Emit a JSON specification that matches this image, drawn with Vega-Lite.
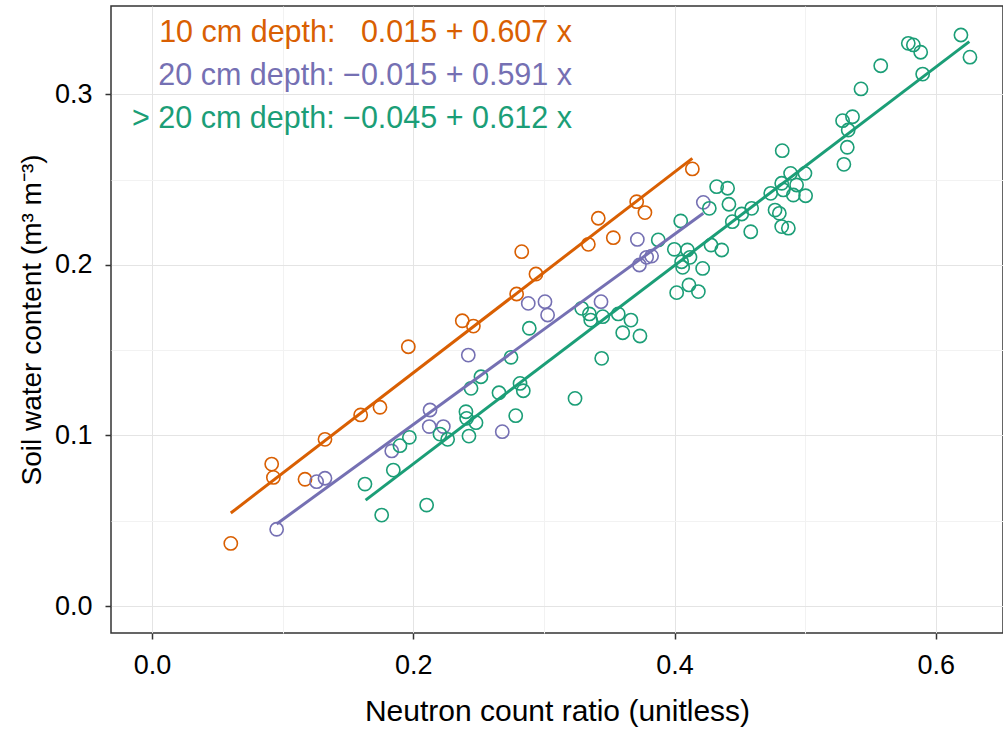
{
  "$schema": "https://vega.github.io/schema/vega-lite/v6.json",
  "width": 892,
  "height": 627,
  "autosize": "none",
  "padding": {"left": 111, "top": 6, "right": 0, "bottom": 97},
  "background": "white",
  "config": {
    "view": {"stroke": "#333333", "strokeWidth": 1.5},
    "font": "Liberation Sans",
    "axis": {
      "labelFont": "Liberation Sans",
      "titleFont": "Liberation Sans",
      "labelColor": "#000000",
      "titleColor": "#000000",
      "titleFontWeight": "normal",
      "domain": false,
      "tickColor": "#333333",
      "tickWidth": 1.5,
      "tickSize": 6,
      "gridWidth": 1
    }
  },
  "datasets": {
    "points": [
      {"g": "10 cm", "x": 0.0603, "y": 0.0367},
      {"g": "10 cm", "x": 0.0916, "y": 0.0832},
      {"g": "10 cm", "x": 0.0929, "y": 0.0754},
      {"g": "10 cm", "x": 0.1171, "y": 0.0743},
      {"g": "10 cm", "x": 0.1324, "y": 0.0977},
      {"g": "10 cm", "x": 0.1597, "y": 0.1120},
      {"g": "10 cm", "x": 0.1745, "y": 0.1165},
      {"g": "10 cm", "x": 0.1962, "y": 0.1520},
      {"g": "10 cm", "x": 0.2375, "y": 0.1672},
      {"g": "10 cm", "x": 0.2460, "y": 0.1641},
      {"g": "10 cm", "x": 0.2791, "y": 0.1829},
      {"g": "10 cm", "x": 0.2830, "y": 0.2077},
      {"g": "10 cm", "x": 0.2939, "y": 0.1946},
      {"g": "10 cm", "x": 0.3340, "y": 0.2120},
      {"g": "10 cm", "x": 0.3416, "y": 0.2273},
      {"g": "10 cm", "x": 0.3531, "y": 0.2159},
      {"g": "10 cm", "x": 0.3710, "y": 0.2370},
      {"g": "10 cm", "x": 0.3773, "y": 0.2306},
      {"g": "10 cm", "x": 0.4136, "y": 0.2562},
      {"g": "20 cm", "x": 0.0954, "y": 0.0450},
      {"g": "20 cm", "x": 0.1260, "y": 0.0729},
      {"g": "20 cm", "x": 0.1324, "y": 0.0749},
      {"g": "20 cm", "x": 0.1835, "y": 0.0909},
      {"g": "20 cm", "x": 0.2122, "y": 0.1052},
      {"g": "20 cm", "x": 0.2128, "y": 0.1149},
      {"g": "20 cm", "x": 0.2230, "y": 0.1052},
      {"g": "20 cm", "x": 0.2421, "y": 0.1471},
      {"g": "20 cm", "x": 0.2681, "y": 0.1022},
      {"g": "20 cm", "x": 0.2880, "y": 0.1774},
      {"g": "20 cm", "x": 0.3008, "y": 0.1784},
      {"g": "20 cm", "x": 0.3028, "y": 0.1706},
      {"g": "20 cm", "x": 0.3437, "y": 0.1784},
      {"g": "20 cm", "x": 0.3715, "y": 0.2149},
      {"g": "20 cm", "x": 0.3731, "y": 0.1999},
      {"g": "20 cm", "x": 0.3786, "y": 0.2044},
      {"g": "20 cm", "x": 0.3824, "y": 0.2051},
      {"g": "20 cm", "x": 0.4220, "y": 0.2366},
      {"g": "> 20 cm", "x": 0.1630, "y": 0.0715},
      {"g": "> 20 cm", "x": 0.1758, "y": 0.0533},
      {"g": "> 20 cm", "x": 0.1847, "y": 0.0797},
      {"g": "> 20 cm", "x": 0.1898, "y": 0.0940},
      {"g": "> 20 cm", "x": 0.1970, "y": 0.0989},
      {"g": "> 20 cm", "x": 0.2102, "y": 0.0592},
      {"g": "> 20 cm", "x": 0.2204, "y": 0.1008},
      {"g": "> 20 cm", "x": 0.2263, "y": 0.0977},
      {"g": "> 20 cm", "x": 0.2403, "y": 0.1139},
      {"g": "> 20 cm", "x": 0.2408, "y": 0.1100},
      {"g": "> 20 cm", "x": 0.2480, "y": 0.1075},
      {"g": "> 20 cm", "x": 0.2426, "y": 0.0996},
      {"g": "> 20 cm", "x": 0.2442, "y": 0.1276},
      {"g": "> 20 cm", "x": 0.2518, "y": 0.1344},
      {"g": "> 20 cm", "x": 0.2656, "y": 0.1250},
      {"g": "> 20 cm", "x": 0.2748, "y": 0.1458},
      {"g": "> 20 cm", "x": 0.2784, "y": 0.1116},
      {"g": "> 20 cm", "x": 0.2817, "y": 0.1305},
      {"g": "> 20 cm", "x": 0.2842, "y": 0.1262},
      {"g": "> 20 cm", "x": 0.2888, "y": 0.1628},
      {"g": "> 20 cm", "x": 0.3238, "y": 0.1217},
      {"g": "> 20 cm", "x": 0.3289, "y": 0.1745},
      {"g": "> 20 cm", "x": 0.3348, "y": 0.1712},
      {"g": "> 20 cm", "x": 0.3358, "y": 0.1676},
      {"g": "> 20 cm", "x": 0.3450, "y": 0.1696},
      {"g": "> 20 cm", "x": 0.3442, "y": 0.1452},
      {"g": "> 20 cm", "x": 0.3569, "y": 0.1712},
      {"g": "> 20 cm", "x": 0.3603, "y": 0.1602},
      {"g": "> 20 cm", "x": 0.3666, "y": 0.1676},
      {"g": "> 20 cm", "x": 0.3735, "y": 0.1583},
      {"g": "> 20 cm", "x": 0.3875, "y": 0.2146},
      {"g": "> 20 cm", "x": 0.3998, "y": 0.2091},
      {"g": "> 20 cm", "x": 0.4047, "y": 0.2257},
      {"g": "> 20 cm", "x": 0.4054, "y": 0.2018},
      {"g": "> 20 cm", "x": 0.4062, "y": 0.1985},
      {"g": "> 20 cm", "x": 0.4098, "y": 0.2087},
      {"g": "> 20 cm", "x": 0.4118, "y": 0.2044},
      {"g": "> 20 cm", "x": 0.4215, "y": 0.1979},
      {"g": "> 20 cm", "x": 0.4016, "y": 0.1837},
      {"g": "> 20 cm", "x": 0.4110, "y": 0.1882},
      {"g": "> 20 cm", "x": 0.4182, "y": 0.1843},
      {"g": "> 20 cm", "x": 0.4266, "y": 0.2331},
      {"g": "> 20 cm", "x": 0.4279, "y": 0.2116},
      {"g": "> 20 cm", "x": 0.4322, "y": 0.2458},
      {"g": "> 20 cm", "x": 0.4406, "y": 0.2449},
      {"g": "> 20 cm", "x": 0.4361, "y": 0.2087},
      {"g": "> 20 cm", "x": 0.4416, "y": 0.2355},
      {"g": "> 20 cm", "x": 0.4442, "y": 0.2253},
      {"g": "> 20 cm", "x": 0.4514, "y": 0.2298},
      {"g": "> 20 cm", "x": 0.4590, "y": 0.2331},
      {"g": "> 20 cm", "x": 0.4583, "y": 0.2194},
      {"g": "> 20 cm", "x": 0.4736, "y": 0.2419},
      {"g": "> 20 cm", "x": 0.4769, "y": 0.2321},
      {"g": "> 20 cm", "x": 0.4802, "y": 0.2302},
      {"g": "> 20 cm", "x": 0.4820, "y": 0.2224},
      {"g": "> 20 cm", "x": 0.4871, "y": 0.2215},
      {"g": "> 20 cm", "x": 0.4820, "y": 0.2478},
      {"g": "> 20 cm", "x": 0.4832, "y": 0.2439},
      {"g": "> 20 cm", "x": 0.4888, "y": 0.2536},
      {"g": "> 20 cm", "x": 0.4934, "y": 0.2468},
      {"g": "> 20 cm", "x": 0.4909, "y": 0.2409},
      {"g": "> 20 cm", "x": 0.4998, "y": 0.2536},
      {"g": "> 20 cm", "x": 0.5003, "y": 0.2405},
      {"g": "> 20 cm", "x": 0.4824, "y": 0.2669},
      {"g": "> 20 cm", "x": 0.5286, "y": 0.2845},
      {"g": "> 20 cm", "x": 0.5362, "y": 0.2868},
      {"g": "> 20 cm", "x": 0.5329, "y": 0.2790},
      {"g": "> 20 cm", "x": 0.5322, "y": 0.2689},
      {"g": "> 20 cm", "x": 0.5296, "y": 0.2589},
      {"g": "> 20 cm", "x": 0.5427, "y": 0.3031},
      {"g": "> 20 cm", "x": 0.5578, "y": 0.3167},
      {"g": "> 20 cm", "x": 0.5789, "y": 0.3298},
      {"g": "> 20 cm", "x": 0.5828, "y": 0.3289},
      {"g": "> 20 cm", "x": 0.5884, "y": 0.3246},
      {"g": "> 20 cm", "x": 0.5899, "y": 0.3118},
      {"g": "> 20 cm", "x": 0.6192, "y": 0.3347},
      {"g": "> 20 cm", "x": 0.6261, "y": 0.3217}
    ],
    "fits": [
      {"g": "10 cm", "x": 0.0603, "y": 0.0545},
      {"g": "10 cm", "x": 0.4136, "y": 0.2624},
      {"g": "20 cm", "x": 0.0954, "y": 0.0481},
      {"g": "20 cm", "x": 0.4220, "y": 0.2302},
      {"g": "> 20 cm", "x": 0.1635, "y": 0.0621},
      {"g": "> 20 cm", "x": 0.6256, "y": 0.3308}
    ],
    "labels": [
      {"g": "10 cm", "x": 0.3215, "y": 0.3306, "t": "10 cm depth: \u00a0\u00a00.015 + 0.607 x"},
      {"g": "20 cm", "x": 0.3215, "y": 0.3054, "t": "20 cm depth: \u22120.015 + 0.591 x"},
      {"g": "> 20 cm", "x": 0.3215, "y": 0.2802, "t": "> 20 cm depth: \u22120.045 + 0.612 x"}
    ]
  },
  "encoding": {
    "x": {
      "field": "x", "type": "quantitative",
      "scale": {"domain": [-0.0314, 0.6514], "nice": false, "zero": false},
      "axis": {
        "title": "Neutron count ratio (unitless)",
        "titleFontSize": 30,
        "titlePadding": 18,
        "labelFontSize": 27,
        "labelPadding": 13,
        "values": [0, 0.1, 0.2, 0.3, 0.4, 0.5, 0.6],
        "labelExpr": "round(datum.value*10)%2==0 ? format(datum.value,'.1f') : ''",
        "tickOpacity": {"condition": {"test": "round(datum.value*10)%2==0", "value": 1}, "value": 0},
        "gridColor": {"condition": {"test": "round(datum.value*10)%2==0", "value": "#e4e4e4"}, "value": "#f2f2f2"}
      }
    },
    "y": {
      "field": "y", "type": "quantitative",
      "scale": {"domain": [-0.0158, 0.3517], "nice": false, "zero": false},
      "axis": {
        "title": "Soil water content (m\u00b3 m\u207b\u00b3)",
        "titleFontSize": 28,
        "titlePadding": 8,
        "labelFontSize": 27,
        "labelPadding": 13,
        "values": [0, 0.05, 0.1, 0.15, 0.2, 0.25, 0.3],
        "labelExpr": "round(datum.value*20)%2==0 ? format(datum.value,'.1f') : ''",
        "tickOpacity": {"condition": {"test": "round(datum.value*20)%2==0", "value": 1}, "value": 0},
        "gridColor": {"condition": {"test": "round(datum.value*20)%2==0", "value": "#e4e4e4"}, "value": "#f2f2f2"}
      }
    },
    "color": {
      "field": "g", "type": "nominal",
      "scale": {"domain": ["10 cm", "20 cm", "> 20 cm"], "range": ["#D95F02", "#7570B3", "#1B9E77"]},
      "legend": null
    }
  },
  "layer": [
    {
      "data": {"name": "points"},
      "mark": {"type": "point", "shape": "circle", "filled": false, "size": 175, "strokeWidth": 1.6, "opacity": 1}
    },
    {
      "data": {"name": "fits"},
      "mark": {"type": "line", "strokeWidth": 3},
      "encoding": {"detail": {"field": "g"}}
    },
    {
      "data": {"name": "labels"},
      "mark": {"type": "text", "align": "right", "baseline": "alphabetic", "fontSize": 30.5, "font": "Liberation Sans"},
      "encoding": {"text": {"field": "t"}}
    }
  ]
}
